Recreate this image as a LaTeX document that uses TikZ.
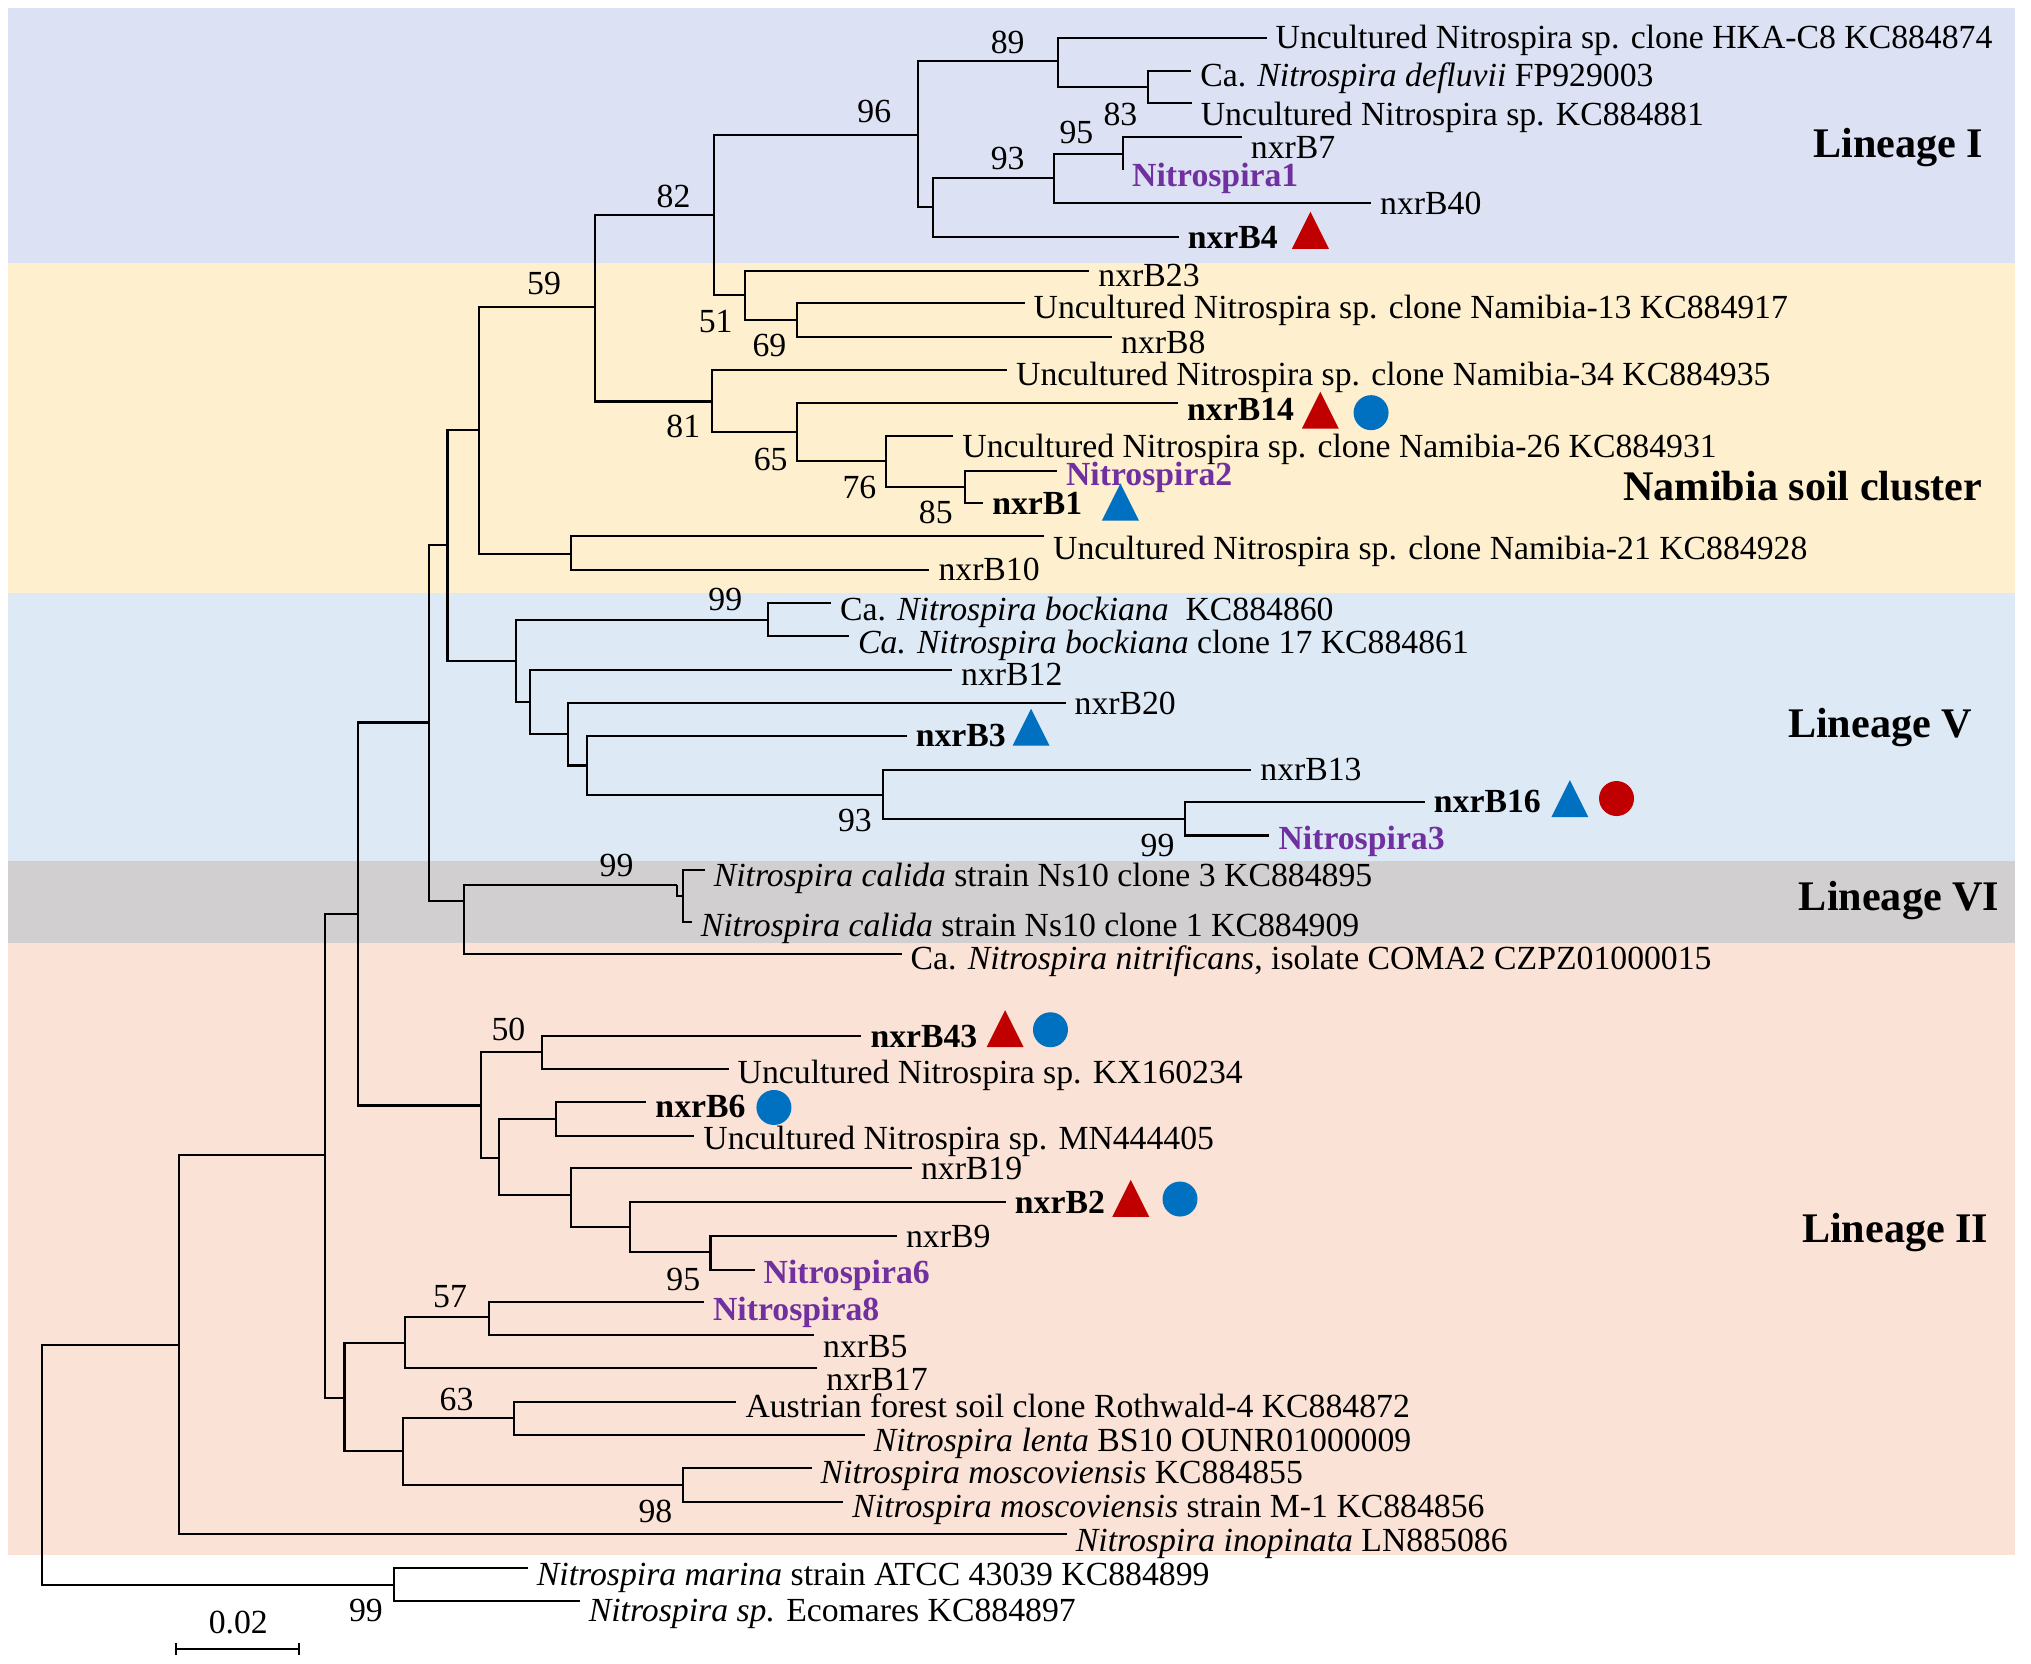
\documentclass[tikz,border=0pt]{standalone}
\usepackage{fontspec}
\setmainfont{Liberation Serif}
\usepackage{tikz}
\usetikzlibrary{shapes.geometric}
\definecolor{bandone}{HTML}{DCE1F3}
\definecolor{bandnam}{HTML}{FEF0CF}
\definecolor{bandfive}{HTML}{DEE9F6}
\definecolor{bandsix}{HTML}{D1CFD0}
\definecolor{bandtwo}{HTML}{FAE3D6}
\definecolor{mred}{HTML}{C00000}
\definecolor{mblue}{HTML}{0070C0}
\definecolor{purp}{HTML}{7030A0}
\newcommand{\leaffont}{\fontsize{9.6}{11}\selectfont}
\tikzset{
  branch/.style={draw=black, line width=0.6pt},
  leaf/.style={anchor=west, inner xsep=2.4pt, inner ysep=0.5pt, font=\leaffont},
  strain/.style={leaf, font=\leaffont\bfseries},
  otu/.style={leaf, text=purp, font=\leaffont\bfseries},
  bs/.style={inner sep=0pt, font=\leaffont},
  lineage/.style={anchor=east, inner sep=0pt, font=\fontsize{12}{14}\selectfont\bfseries},
  redtri/.style={isosceles triangle, shape border rotate=90, isosceles triangle stretches,
    minimum width=0.37cm, minimum height=0.37cm, inner sep=0pt, fill=mred, anchor=south},
  bluetri/.style={redtri, fill=mblue},
  bluedot/.style={circle, fill=mblue, minimum size=0.35cm, inner sep=0pt},
  reddot/.style={bluedot, fill=mred}
}

\begin{document}
\begin{tikzpicture}[x=0.012953cm, y=-0.012953cm]
  \useasboundingbox (0,0) rectangle (1568,1284);

  % clade bands
  \fill[bandone] (6.5,6.5) rectangle (1555.6,203);
  \fill[bandnam] (6.5,203) rectangle (1555.6,457.7);
  \fill[bandfive] (6.5,457.7) rectangle (1555.6,664.7);
  \fill[bandsix] (6.5,664.7) rectangle (1555.6,728);
  \fill[bandtwo] (6.5,728) rectangle (1555.6,1200.5);

  % internal nodes
  \coordinate (root) at (32.5,1131);
  \coordinate (nMar) at (304,1223.5);
  \coordinate (nA) at (138.5,1038.4);
  \coordinate (nB) at (251,892);
  \coordinate (nC) at (276.5,705.3);
  \coordinate (nD) at (331.5,557.8);
  \coordinate (nE) at (345.5,421);
  \coordinate (nF) at (370,332);
  \coordinate (n21) at (441,427.5);
  \coordinate (n59) at (459.5,237);
  \coordinate (n82) at (551.5,166);
  \coordinate (n96) at (709,104);
  \coordinate (n89) at (817,47);
  \coordinate (n83) at (886,67.4);
  \coordinate (nG) at (720,160);
  \coordinate (n93) at (813.6,137.4);
  \coordinate (n95) at (867,118.8);
  \coordinate (n51) at (575,228);
  \coordinate (n69) at (615,247);
  \coordinate (n81) at (550,310);
  \coordinate (n65) at (615,333.8);
  \coordinate (n76) at (684,356);
  \coordinate (n85) at (745,375.8);
  \coordinate (nL5) at (398.5,510);
  \coordinate (nBoc) at (593,478.6);
  \coordinate (nH) at (409,541.8);
  \coordinate (nI) at (438.5,566.9);
  \coordinate (nJ) at (453.5,591);
  \coordinate (n93b) at (681.5,613.5);
  \coordinate (n99c) at (915,632.3);
  \coordinate (nL6) at (358.5,695.6);
  \coordinate (nCal) at (522.5,683.3);
  \coordinate (nK) at (527,692);
  \coordinate (nL2a) at (371.5,853.5);
  \coordinate (n50) at (418.5,812.2);
  \coordinate (nM) at (385,894);
  \coordinate (nN) at (429,863.9);
  \coordinate (nO) at (441,922.4);
  \coordinate (nP) at (486.5,947.5);
  \coordinate (n95b) at (548.5,966.7);
  \coordinate (nL2b) at (266,1079.2);
  \coordinate (nQ) at (312.5,1036.5);
  \coordinate (n57) at (377.5,1017);
  \coordinate (nR) at (311,1120.2);
  \coordinate (n63) at (397,1095);
  \coordinate (n98) at (527,1146.6);

  % tips
  \coordinate (tHKA) at (977.8,29.5);
  \coordinate (tDef) at (919.6,54.7);
  \coordinate (t881) at (920,79.8);
  \coordinate (tB7) at (958.7,105.8);
  \coordinate (tN1) at (867,131);
  \coordinate (tB40) at (1058.5,157);
  \coordinate (tB4) at (910,183);
  \coordinate (tB23) at (841,209);
  \coordinate (tN13) at (791,234);
  \coordinate (tB8) at (858.5,260);
  \coordinate (tN34) at (777.5,285.7);
  \coordinate (tB14) at (909.5,311);
  \coordinate (tN26) at (736,336.8);
  \coordinate (tN2) at (816,363.4);
  \coordinate (tB1) at (759,388.5);
  \coordinate (tN21) at (806,414);
  \coordinate (tB10) at (717.5,440);
  \coordinate (tBoc) at (641.5,465.4);
  \coordinate (tBoc17) at (655.5,491);
  \coordinate (tB12) at (735,517.3);
  \coordinate (tB20) at (822.6,542.7);
  \coordinate (tB3) at (700,568);
  \coordinate (tB13) at (966,594.2);
  \coordinate (tB16) at (1100,619);
  \coordinate (tN3) at (980,645);
  \coordinate (tCal3) at (544,672);
  \coordinate (tCal1) at (534,712);
  \coordinate (tNit) at (696,736.2);
  \coordinate (tB43) at (665,800);
  \coordinate (tKX) at (562.5,825.3);
  \coordinate (tB6) at (499,851);
  \coordinate (tMN) at (536,876.9);
  \coordinate (tB19) at (704,902);
  \coordinate (tB2) at (776.5,928);
  \coordinate (tB9) at (692.5,954.3);
  \coordinate (tN6) at (582.5,980.2);
  \coordinate (tN8) at (543.5,1005);
  \coordinate (tB5) at (628.5,1030.7);
  \coordinate (tB17) at (631,1056.2);
  \coordinate (tRot) at (568.5,1082.1);
  \coordinate (tLen) at (667.5,1108);
  \coordinate (tMos) at (626.5,1133.6);
  \coordinate (tMosM) at (651,1159.5);
  \coordinate (tIno) at (823.6,1184.5);
  \coordinate (tMar) at (407.5,1210.3);
  \coordinate (tEco) at (447.5,1236.1);

  % branches
  \draw[branch] (root) |- (nA);   \draw[branch] (root) |- (nMar);
  \draw[branch] (nMar) |- (tMar); \draw[branch] (nMar) |- (tEco);
  \draw[branch] (nA) |- (nB);     \draw[branch] (nA) |- (tIno);
  \draw[branch] (nB) |- (nC);     \draw[branch] (nB) |- (nL2b);
  \draw[branch] (nC) |- (nD);     \draw[branch] (nC) |- (nL2a);
  \draw[branch] (nD) |- (nE);     \draw[branch] (nD) |- (nL6);
  \draw[branch] (nE) |- (nF);     \draw[branch] (nE) |- (nL5);
  \draw[branch] (nF) |- (n59);    \draw[branch] (nF) |- (n21);
  \draw[branch] (n21) |- (tN21);  \draw[branch] (n21) |- (tB10);
  \draw[branch] (n59) |- (n82);   \draw[branch] (n59) |- (n81);
  \draw[branch] (n82) |- (n96);   \draw[branch] (n82) |- (n51);
  \draw[branch] (n96) |- (n89);   \draw[branch] (n96) |- (nG);
  \draw[branch] (n89) |- (tHKA);  \draw[branch] (n89) |- (n83);
  \draw[branch] (n83) |- (tDef);  \draw[branch] (n83) |- (t881);
  \draw[branch] (nG) |- (n93);    \draw[branch] (nG) |- (tB4);
  \draw[branch] (n93) |- (n95);   \draw[branch] (n93) |- (tB40);
  \draw[branch] (n95) |- (tB7);   \draw[branch] (n95) |- (tN1);
  \draw[branch] (n51) |- (tB23);  \draw[branch] (n51) |- (n69);
  \draw[branch] (n69) |- (tN13);  \draw[branch] (n69) |- (tB8);
  \draw[branch] (n81) |- (tN34);  \draw[branch] (n81) |- (n65);
  \draw[branch] (n65) |- (tB14);  \draw[branch] (n65) |- (n76);
  \draw[branch] (n76) |- (tN26);  \draw[branch] (n76) |- (n85);
  \draw[branch] (n85) |- (tN2);   \draw[branch] (n85) |- (tB1);
  \draw[branch] (nL5) |- (nBoc);  \draw[branch] (nL5) |- (nH);
  \draw[branch] (nBoc) |- (tBoc); \draw[branch] (nBoc) |- (tBoc17);
  \draw[branch] (nH) |- (tB12);   \draw[branch] (nH) |- (nI);
  \draw[branch] (nI) |- (tB20);   \draw[branch] (nI) |- (nJ);
  \draw[branch] (nJ) |- (tB3);    \draw[branch] (nJ) |- (n93b);
  \draw[branch] (n93b) |- (tB13); \draw[branch] (n93b) |- (n99c);
  \draw[branch] (n99c) |- (tB16); \draw[branch] (n99c) |- (tN3);
  \draw[branch] (nL6) |- (nCal);  \draw[branch] (nL6) |- (tNit);
  \draw[branch] (nCal) |- (nK);
  \draw[branch] (nK) |- (tCal3);  \draw[branch] (nK) |- (tCal1);
  \draw[branch] (nL2a) |- (n50);  \draw[branch] (nL2a) |- (nM);
  \draw[branch] (n50) |- (tB43);  \draw[branch] (n50) |- (tKX);
  \draw[branch] (nM) |- (nN);     \draw[branch] (nM) |- (nO);
  \draw[branch] (nN) |- (tB6);    \draw[branch] (nN) |- (tMN);
  \draw[branch] (nO) |- (tB19);   \draw[branch] (nO) |- (nP);
  \draw[branch] (nP) |- (tB2);    \draw[branch] (nP) |- (n95b);
  \draw[branch] (n95b) |- (tB9);  \draw[branch] (n95b) |- (tN6);
  \draw[branch] (nL2b) |- (nQ);   \draw[branch] (nL2b) |- (nR);
  \draw[branch] (nQ) |- (n57);    \draw[branch] (nQ) |- (tB17);
  \draw[branch] (n57) |- (tN8);   \draw[branch] (n57) |- (tB5);
  \draw[branch] (nR) |- (n63);    \draw[branch] (nR) |- (n98);
  \draw[branch] (n63) |- (tRot);  \draw[branch] (n63) |- (tLen);
  \draw[branch] (n98) |- (tMos);  \draw[branch] (n98) |- (tMosM);

  % tip labels
  \node[leaf, yshift=-0.7pt] (lHKA) at (tHKA) {Uncultured Nitrospira sp. clone HKA-C8 KC884874};
  \node[leaf, yshift=-2.2pt] (lDef) at (tDef) {Ca. \textit{Nitrospira defluvii} FP929003};
  \node[leaf, yshift=-4pt] (l881) at (t881) {Uncultured Nitrospira sp. KC884881};
  \node[leaf, yshift=-2.9pt] (lB7) at (tB7) {nxrB7};
  \node[otu, yshift=-2.6pt] (lN1) at (tN1) {Nitrospira1};
  \node[leaf] (lB40) at (tB40) {nxrB40};
  \node[strain] (lB4) at (tB4) {nxrB4};
  \node[leaf, yshift=-1.5pt] (lB23) at (tB23) {nxrB23};
  \node[leaf, yshift=-2.2pt] (lN13) at (tN13) {Uncultured Nitrospira sp. clone Namibia-13 KC884917};
  \node[leaf, yshift=-1.5pt] (lB8) at (tB8) {nxrB8};
  \node[leaf, yshift=-2.2pt] (lN34) at (tN34) {Uncultured Nitrospira sp. clone Namibia-34 KC884935};
  \node[strain, yshift=-1.8pt] (lB14) at (tB14) {nxrB14};
  \node[leaf, yshift=-3.6pt] (lN26) at (tN26) {Uncultured Nitrospira sp. clone Namibia-26 KC884931};
  \node[otu, yshift=-1.8pt] (lN2) at (tN2) {Nitrospira2};
  \node[strain] (lB1) at (tB1) {nxrB1};
  \node[leaf, yshift=-4.2pt] (lN21) at (tN21) {Uncultured Nitrospira sp. clone Namibia-21 KC884928};
  \node[leaf] (lB10) at (tB10) {nxrB10};
  \node[leaf, yshift=-2.6pt] (lBoc) at (tBoc) {Ca. \textit{Nitrospira bockiana}\ \ KC884860};
  \node[leaf, yshift=-2.6pt] (lBoc17) at (tBoc17) {\textit{Ca. Nitrospira bockiana} clone 17 KC884861};
  \node[leaf, yshift=-1.1pt] (lB12) at (tB12) {nxrB12};
  \node[leaf] (lB20) at (tB20) {nxrB20};
  \node[strain] (lB3) at (tB3) {nxrB3};
  \node[leaf] (lB13) at (tB13) {nxrB13};
  \node[strain] (lB16) at (tB16) {nxrB16};
  \node[otu, yshift=-1.8pt] (lN3) at (tN3) {Nitrospira3};
  \node[leaf, yshift=-2.2pt] (lCal3) at (tCal3) {\textit{Nitrospira calida} strain Ns10 clone 3 KC884895};
  \node[leaf, yshift=-1.8pt] (lCal1) at (tCal1) {\textit{Nitrospira calida} strain Ns10 clone 1 KC884909};
  \node[leaf, yshift=-2.2pt] (lNit) at (tNit) {Ca. \textit{Nitrospira nitrificans}, isolate COMA2 CZPZ01000015};
  \node[strain] (lB43) at (tB43) {nxrB43};
  \node[leaf, yshift=-1.8pt] (lKX) at (tKX) {Uncultured Nitrospira sp. KX160234};
  \node[strain, yshift=-1.1pt] (lB6) at (tB6) {nxrB6};
  \node[leaf, yshift=-1.5pt] (lMN) at (tMN) {Uncultured Nitrospira sp. MN444405};
  \node[leaf] (lB19) at (tB19) {nxrB19};
  \node[strain] (lB2) at (tB2) {nxrB2};
  \node[leaf] (lB9) at (tB9) {nxrB9};
  \node[otu, yshift=-1.5pt] (lN6) at (tN6) {Nitrospira6};
  \node[otu, yshift=-2.9pt] (lN8) at (tN8) {Nitrospira8};
  \node[leaf, yshift=-3.3pt] (lB5) at (tB5) {nxrB5};
  \node[leaf, yshift=-3.3pt] (lB17) at (tB17) {nxrB17};
  \node[leaf, yshift=-1.1pt] (lRot) at (tRot) {Austrian forest soil clone Rothwald-4 KC884872};
  \node[leaf, yshift=-2.2pt] (lLen) at (tLen) {\textit{Nitrospira lenta} BS10 OUNR01000009};
  \node[leaf, yshift=-2.2pt] (lMos) at (tMos) {\textit{Nitrospira moscoviensis} KC884855};
  \node[leaf, yshift=-2.2pt] (lMosM) at (tMosM) {\textit{Nitrospira moscoviensis} strain M-1 KC884856};
  \node[leaf, yshift=-2.6pt] (lIno) at (tIno) {\textit{Nitrospira inopinata} LN885086};
  \node[leaf, yshift=-2.9pt] (lMar) at (tMar) {\textit{Nitrospira marina} strain ATCC 43039 KC884899};
  \node[leaf, yshift=-3.7pt] (lEco) at (tEco) {\textit{Nitrospira sp.} Ecomares KC884897};

  % bootstrap values
  \node[bs] (b89) at (778,33) {89};
  \node[bs] (b83) at (865,88) {83};
  \node[bs] (b95) at (831,102) {95};
  \node[bs] (b93) at (778,122) {93};
  \node[bs] (b96) at (675,86) {96};
  \node[bs] (b82) at (520,152) {82};
  \node[bs] (b59) at (420,218.6) {59};
  \node[bs] (b51) at (552.5,248) {51};
  \node[bs] (b69) at (594,267) {69};
  \node[bs] (b81) at (527.5,329) {81};
  \node[bs] (b65) at (595,354.5) {65};
  \node[bs] (b76) at (663.5,376.7) {76};
  \node[bs] (b85) at (722.5,396) {85};
  \node[bs] (bBoc) at (560,462.7) {99};
  \node[bs] (b93b) at (660,633.6) {93};
  \node[bs] (b99c) at (893.7,653) {99};
  \node[bs] (bCal) at (476,668) {99};
  \node[bs] (b50) at (392.5,795) {50};
  \node[bs] (b95b) at (527.5,987.5) {95};
  \node[bs] (b57) at (347.5,1001) {57};
  \node[bs] (b63) at (352.5,1080.6) {63};
  \node[bs] (b98) at (506,1166.9) {98};
  \node[bs] (bMar) at (282.5,1243) {99};

  % markers
  \node[redtri] (mB4) at (1011.7,192.6) {};
  \node[redtri] (mB14) at (1019.3,331.5) {};
  \node[bluedot] (cB14) at (1058.5,318.6) {};
  \node[bluetri] (mB1) at (865,402.4) {};
  \node[bluetri] (mB3) at (796,576.2) {};
  \node[bluetri] (mB16) at (1212,631.4) {};
  \node[reddot] (cB16) at (1248,616.5) {};
  \node[redtri] (mB43) at (776,809) {};
  \node[bluedot] (cB43) at (811,795) {};
  \node[bluedot] (cB6) at (597.5,855) {};
  \node[redtri] (mB2) at (873,940) {};
  \node[bluedot] (cB2) at (911,925.7) {};

  % lineage names
  \node[lineage] (linI) at (1531.7,113.7) {Lineage I};
  \node[lineage] (linNam) at (1530.6,375) {Namibia soil cluster};
  \node[lineage] (linV) at (1523,561.9) {Lineage V};
  \node[lineage] (linVI) at (1544,695.6) {Lineage VI};
  \node[lineage] (linII) at (1535.6,951.5) {Lineage II};

  % scale bar
  \coordinate (sbL) at (136,1273);
  \coordinate (sbR) at (231,1273);
  \draw[branch] (sbL) -- (sbR);
  \draw[branch] ([yshift=0.06cm]sbL) -- ([yshift=-0.06cm]sbL);
  \draw[branch] ([yshift=0.06cm]sbR) -- ([yshift=-0.06cm]sbR);
  \node[bs] (sbT) at (184,1253) {0.02};
\end{tikzpicture}
\end{document}
